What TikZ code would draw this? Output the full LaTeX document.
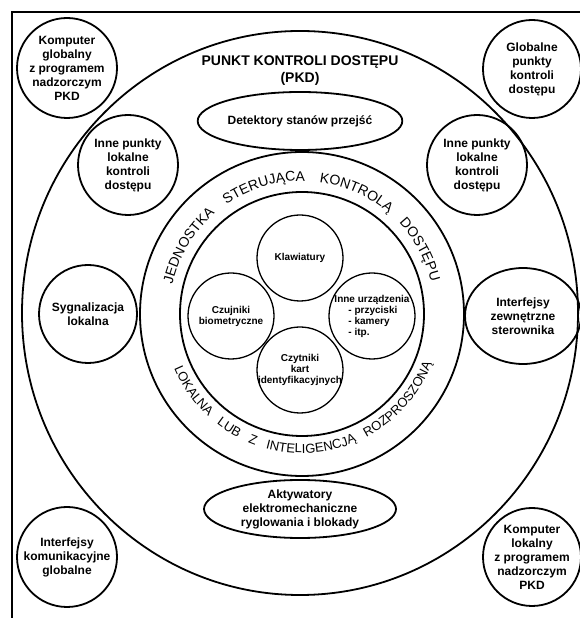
\documentclass[tikz,border=0pt]{standalone}
\usepackage{fontspec}
\setmainfont{Liberation Sans}
\usetikzlibrary{shapes.geometric, decorations.text, calc}

\begin{document}
\begin{tikzpicture}[x=1pt, y=1pt,
  bubble/.style={shape=circle, draw=black, line width=1.8pt, inner sep=-6pt, align=center, font=\fontsize{12}{14}\selectfont\bfseries},
  small/.style={shape=circle, draw=black, line width=1.3pt, inner sep=-6pt, minimum size=86pt, align=center, font=\fontsize{10}{11}\selectfont\bfseries},
  oval/.style={shape=ellipse, draw=black, line width=1.8pt, inner sep=0pt, minimum width=192pt, minimum height=58pt, align=center, font=\fontsize{12}{14}\selectfont\bfseries},
  ringtext/.style={decorate, decoration={text along path, text align={fit to path stretching spaces}, text={#1}}}]
\fill[white] (0,0) rectangle (580,618);
\useasboundingbox (0,0) rectangle (580,618);
\draw[line width=2.2pt] (580,606) -- (12,606) -- (12,0);

\node[shape=ellipse, draw=black, line width=1.8pt, inner sep=0pt, minimum width=556pt, minimum height=564pt] (pkd) at (300,305) {};
\node[font=\fontsize{14}{17}\selectfont\bfseries, align=center] (tytul) at (300,547) {PUNKT KONTROLI DOSTĘPU\\(PKD)};

\node[shape=circle, draw=black, line width=1.8pt, inner sep=0pt, minimum size=324pt] (ring) at (302,304) {};
\node[shape=circle, draw=black, line width=1.8pt, inner sep=0pt, minimum size=244pt] (core) at (302,304) {};
\path[ringtext={|\fontsize{14}{14}\selectfont|JEDNOSTKA STERUJĄCA KONTROLĄ DOSTĘPU}]
  ($(core.center)+(167:133)$) arc[start angle=167, end angle=14, radius=133];
\path[ringtext={|\fontsize{13}{13}\selectfont|LOKALNA LUB Z INTELIGENCJĄ ROZPROSZONĄ}]
  ($(core.center)+(203:139)$) arc[start angle=203, end angle=339, radius=139];

\node[small] (klaw) at (300,360) {Klawiatury};
\node[small] (bio) at (231,302) {Czujniki\\biometryczne};
\node[small, align=left] (inne) at (372,302) {Inne urządzenia\\\hspace*{14pt}- przyciski\\\hspace*{14pt}- kamery\\\hspace*{14pt}- itp.};
\node[small] (karty) at (300,248) {Czytniki\\kart\\identyfikacyjnych};

\node[oval] (detektory) at (300,497) {Detektory stanów przejść};
\node[oval] (aktywatory) at (300,109) {Aktywatory\\elektromechaniczne\\ryglowania i blokady};

\node[bubble, minimum size=100pt] (kglob) at (67,550) {Komputer\\globalny\\z programem\\nadzorczym\\PKD};
\node[bubble, minimum size=98pt] (pglob) at (532,549) {Globalne\\punkty\\kontroli\\dostępu};
\node[bubble, minimum size=100pt] (innel) at (128,453) {Inne punkty\\lokalne\\kontroli\\dostępu};
\node[bubble, minimum size=100pt] (inner) at (477,453) {Inne punkty\\lokalne\\kontroli\\dostępu};
\node[bubble, minimum size=98pt] (sygn) at (88,304) {Sygnalizacja\\lokalna};
\node[bubble, shape=ellipse, inner sep=0pt, minimum width=116pt, minimum height=96pt] (izew) at (523,302) {Interfejsy\\zewnętrzne\\sterownika};
\node[bubble, minimum size=100pt] (ikom) at (67,61) {Interfejsy\\komunikacyjne\\globalne};
\node[bubble, minimum size=98pt] (klok) at (532,61) {Komputer\\lokalny\\z programem\\nadzorczym\\PKD};
\end{tikzpicture}
\end{document}
